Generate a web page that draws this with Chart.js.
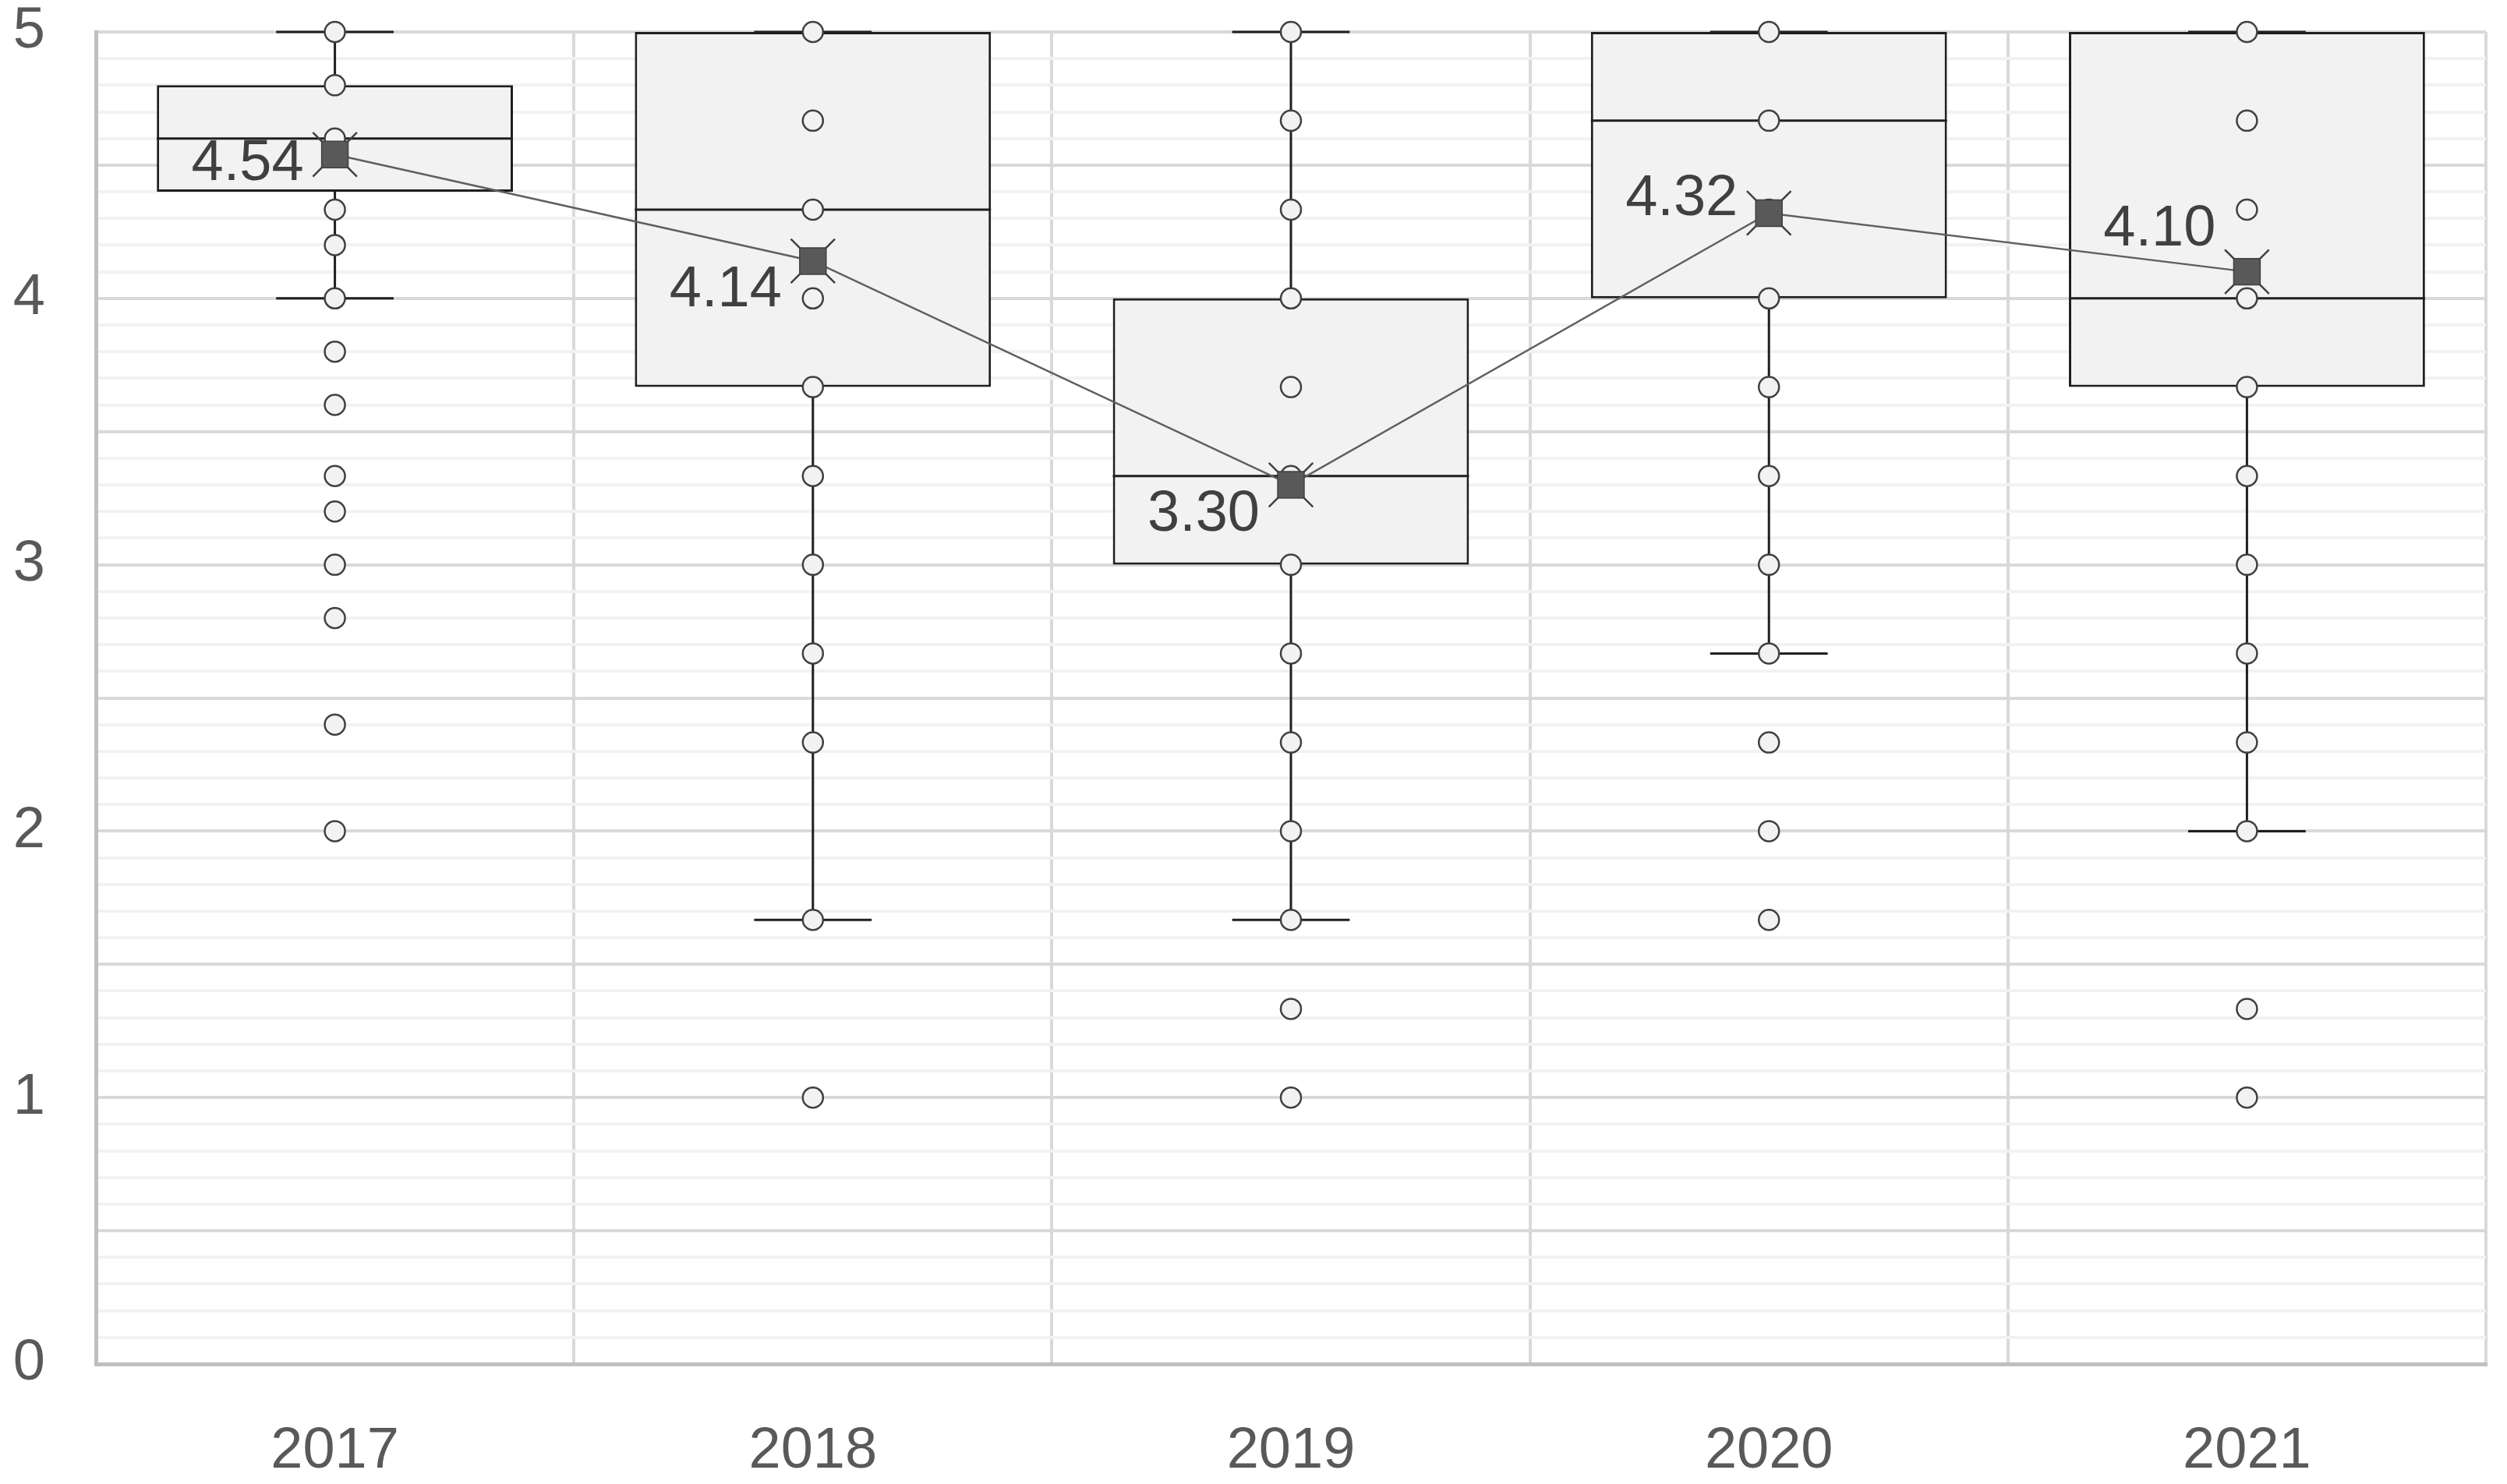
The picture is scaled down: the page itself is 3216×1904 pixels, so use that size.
<!DOCTYPE html>
<html>
<head>
<meta charset="utf-8">
<script src="https://cdn.jsdelivr.net/npm/chart.js@4.4.1/dist/chart.umd.min.js"></script>
<style>
    html, body { margin: 0; padding: 0; background: #fff; }
    #wrap { width: 3216px; height: 1904px; }
</style>
</head>
<body>
<div id="wrap"><canvas id="boxChart" width="3216" height="1904"></canvas></div>
<script>
// categories
let years = ['2017', '2018', '2019', '2020', '2021'];

// box summary per year
let q1 = [4.4, 3.667, 3.0, 4.0, 3.667];
let q3 = [4.8, 5.0, 4.0, 5.0, 5.0];
let median = [4.6, 4.333, 3.333, 4.667, 4.0];
let whiskerLow = [4.0, 1.667, 1.667, 2.667, 2.0];
let whiskerHigh = [5.0, 5.0, 5.0, 5.0, 5.0];
let mean = [4.54, 4.14, 3.30, 4.32, 4.10];

// individual points per year
let p2017 = [5, 4.8, 4.6, 4.333, 4.2, 4, 3.8, 3.6, 3.333, 3.2, 3, 2.8, 2.4, 2];
let p2018 = [5, 4.667, 4.333, 4, 3.667, 3.333, 3, 2.667, 2.333, 1.667, 1];
let p2019 = [5, 4.667, 4.333, 4, 3.667, 3.333, 3, 2.667, 2.333, 2, 1.667, 1.333, 1];
let p2020 = [5, 4.667, 4.333, 4, 3.667, 3.333, 3, 2.667, 2.333, 2, 1.667];
let p2021 = [5, 4.667, 4.333, 4, 3.667, 3.333, 3, 2.667, 2.333, 2, 1.333, 1];

// y ticks
let yMin = 0;
let yMax = 5;
let yStep = 0.1;

let allPoints = [p2017, p2018, p2019, p2020, p2021];
let pointData = [];
for (let i = 0; i < years.length; i++) {
    for (let j = 0; j < allPoints[i].length; j++) {
        pointData.push({ x: years[i], y: allPoints[i][j] });
    }
}

const FONT = '"Liberation Sans", Arial, sans-serif';

function isStep(v, n) {
    return Math.abs(v * n - Math.round(v * n)) < 1e-6;
}

// whiskers + median for the floating bars
const boxExtras = {
    id: 'boxExtras',
    afterDatasetDraw(chart, args) {
        if (args.meta.type !== 'bar') return;
        let ctx = chart.ctx;
        let y = chart.scales.y;
        ctx.save();
        ctx.strokeStyle = '#1f1f1f';
        ctx.lineWidth = 3;
        args.meta.data.forEach(function (bar, i) {
            let x = bar.x;
            let half = bar.width / 2;
            let cap = bar.width * 0.165;
            let yMed = y.getPixelForValue(median[i]);
            let yQ1 = y.getPixelForValue(q1[i]);
            let yQ3 = y.getPixelForValue(q3[i]);
            let yLo = y.getPixelForValue(whiskerLow[i]);
            let yHi = y.getPixelForValue(whiskerHigh[i]);
            ctx.beginPath();
            ctx.moveTo(x - half, yMed); ctx.lineTo(x + half, yMed);
            ctx.moveTo(x, yQ3); ctx.lineTo(x, yHi);
            ctx.moveTo(x, yQ1); ctx.lineTo(x, yLo);
            ctx.moveTo(x - cap, yHi); ctx.lineTo(x + cap, yHi);
            ctx.moveTo(x - cap, yLo); ctx.lineTo(x + cap, yLo);
            ctx.stroke();
        });
        ctx.restore();
    }
};

// mean value labels, left of the marker
const meanLabels = {
    id: 'meanLabels',
    afterDatasetsDraw(chart, args, opts) {
        let meta = chart.getDatasetMeta(opts.datasetIndex);
        let ctx = chart.ctx;
        ctx.save();
        ctx.font = '74px ' + FONT;
        ctx.fillStyle = '#404040';
        ctx.textAlign = 'right';
        ctx.textBaseline = 'middle';
        meta.data.forEach(function (pt, i) {
            ctx.fillText(mean[i].toFixed(2), pt.x - 40, pt.y + opts.dy[i]);
        });
        ctx.restore();
    }
};

let boxChart = new Chart(document.getElementById('boxChart'), {
    data: {
        labels: years,
        datasets: [
            {
                type: 'bar',
                data: years.map(function (yr, i) { return [q1[i], q3[i]]; }),
                backgroundColor: '#f2f2f2',
                borderColor: '#1f1f1f',
                borderWidth: 3,
                borderSkipped: false,
                categoryPercentage: 0.745,
                barPercentage: 1,
                clip: false,
                order: 5
            },
            {
                type: 'line',
                data: pointData,
                showLine: false,
                pointStyle: 'circle',
                pointRadius: 13,
                pointBackgroundColor: '#f2f2f2',
                pointBorderColor: '#404040',
                pointBorderWidth: 2.5,
                clip: false,
                order: 3
            },
            {
                type: 'line',
                data: mean,
                showLine: false,
                pointStyle: 'crossRot',
                pointRadius: 40,
                pointBorderColor: '#404040',
                pointBorderWidth: 2.5,
                clip: false,
                order: 2
            },
            {
                type: 'line',
                data: mean,
                borderColor: '#5f5f5f',
                borderWidth: 2.5,
                pointStyle: 'rect',
                pointRadius: 24,
                pointBackgroundColor: '#595959',
                pointBorderColor: '#404040',
                pointBorderWidth: 1.5,
                clip: false,
                order: 1
            }
        ]
    },
    options: {
        responsive: false,
        animation: false,
        layout: { autoPadding: false, padding: { top: 41, right: 27, left: 0, bottom: 0 } },
        plugins: {
            legend: { display: false },
            tooltip: { enabled: false },
            meanLabels: { datasetIndex: 3, dy: [12, 38, 39, -18, -54] }
        },
        scales: {
            x: {
                type: 'category',
                offset: true,
                grid: { offset: true, color: '#d9d9d9', lineWidth: 4, drawTicks: false },
                border: { color: '#bfbfbf', width: 5 },
                ticks: { color: '#595959', font: { family: FONT, size: 74 }, padding: 68 },
                afterFit: function (scale) {
                    scale.height = 154;
                    scale.paddingLeft = 0;
                    scale.paddingRight = 0;
                }
            },
            y: {
                min: yMin,
                max: yMax,
                grid: {
                    drawTicks: false,
                    lineWidth: 4,
                    color: function (c) {
                        if (!c.tick) return '#f2f2f2';
                        return isStep(c.tick.value, 2) ? '#d9d9d9' : '#f2f2f2';
                    }
                },
                border: { color: '#bfbfbf', width: 5 },
                ticks: {
                    stepSize: yStep,
                    autoSkip: false,
                    color: '#595959',
                    font: { family: FONT, size: 74 },
                    padding: 65,
                    callback: function (v) { return isStep(v, 1) ? String(Math.round(v)) : ''; }
                },
                afterFit: function (scale) {
                    scale.width = 123;
                    scale.paddingTop = 0;
                    scale.paddingBottom = 0;
                }
            }
        }
    },
    plugins: [boxExtras, meanLabels]
});
</script>
</body>
</html>
